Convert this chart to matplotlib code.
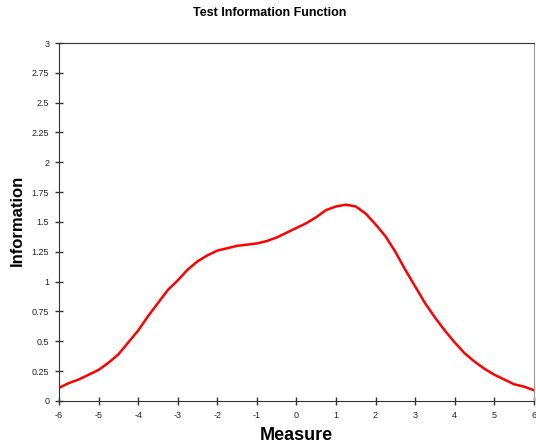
import numpy as np
import matplotlib.pyplot as plt

plt.rcParams['font.family'] = ['Liberation Sans', 'DejaVu Sans']

# values
measure = [-6, -5.75, -5.5, -5.25, -5, -4.75, -4.5, -4.25, -4, -3.75, -3.5, -3.25,
           -3, -2.75, -2.5, -2.25, -2, -1.75, -1.5, -1.25, -1, -0.75, -0.5, -0.25,
           0, 0.25, 0.5, 0.75, 1, 1.25, 1.5, 1.75, 2, 2.25, 2.5, 2.75,
           3, 3.25, 3.5, 3.75, 4, 4.25, 4.5, 4.75, 5, 5.25, 5.5, 5.75, 6]
information = [0.11, 0.15, 0.18, 0.22, 0.26, 0.32, 0.39, 0.49, 0.59, 0.71, 0.82, 0.93,
               1.01, 1.10, 1.17, 1.22, 1.26, 1.28, 1.30, 1.31, 1.32, 1.34, 1.37, 1.41,
               1.45, 1.49, 1.54, 1.60, 1.63, 1.645, 1.63, 1.57, 1.48, 1.38, 1.25, 1.10,
               0.96, 0.82, 0.70, 0.59, 0.49, 0.40, 0.33, 0.27, 0.22, 0.18, 0.14, 0.12, 0.09]
xticks = list(range(-6, 7))
yticks = [0, 0.25, 0.5, 0.75, 1, 1.25, 1.5, 1.75, 2, 2.25, 2.5, 2.75, 3]
yticklabels = ['0', '0.25', '0.5', '0.75', '1', '1.25', '1.5', '1.75', '2', '2.25', '2.5', '2.75', '3']

fig = plt.figure(figsize=(5.36, 4.48), dpi=100)
ax = fig.add_axes([0.110, 0.105, 0.886, 0.799])
ax.plot(measure, information, color='red', lw=1.8)

ax.set_xlim(-6, 6)
ax.set_ylim(0, 3)
ax.set_xticks(xticks)
ax.set_xticklabels([str(t) for t in xticks])
ax.set_yticks(yticks)
ax.set_yticklabels(yticklabels)
ax.tick_params(direction='inout', length=6, width=1, labelsize=6.5, pad=4,
               color='#333333', labelcolor='#222222')
for s in ax.spines.values():
    s.set_color('#333333')
ax.spines['right'].set_color('#999999')

fig.text(0.504, 0.972, 'Test Information Function', ha='center', va='center',
         fontsize=9, fontweight='bold')
fig.text(0.553, 0.028, 'Measure', ha='center', va='center',
         fontsize=13, fontweight='bold')
fig.text(0.032, 0.509, 'Information', ha='center', va='center', rotation=90,
         fontsize=12, fontweight='bold')

fig.savefig('out.png', dpi=100)
